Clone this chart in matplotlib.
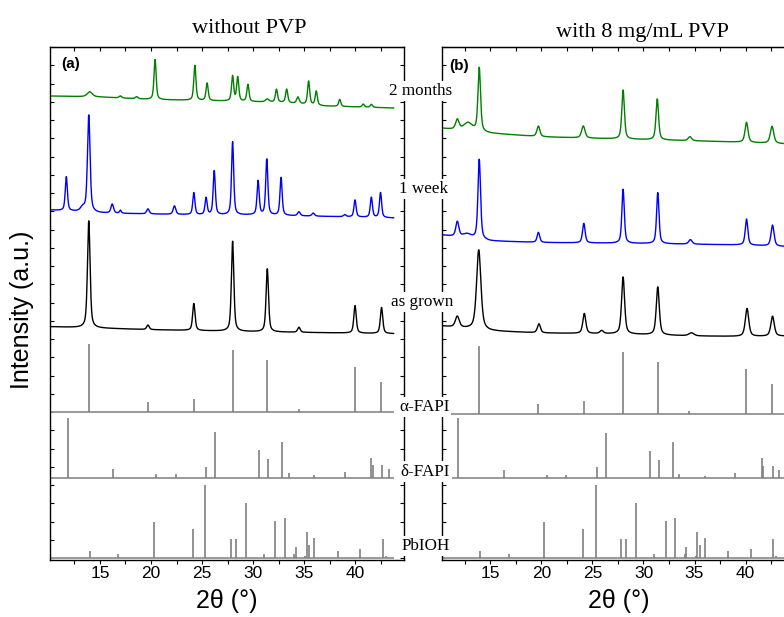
import numpy as np
import matplotlib
matplotlib.use('Agg')
import matplotlib.pyplot as plt
from matplotlib.ticker import MultipleLocator, FixedLocator

# ---- measured curves: peak position (2theta), height, fwhm ; background anchors ----
# panel (a) without PVP
a_2m_pos = [14.0, 17.0, 18.6, 20.4, 24.3, 25.5, 28.0, 28.5, 29.5, 31.4, 32.3, 33.3, 34.4, 35.45, 36.2, 38.5, 40.8, 41.6]
a_2m_h   = [5, 2, 2, 40, 35, 17.5, 25, 24, 17, 3, 13, 13.5, 6.5, 23.5, 14, 7, 3, 3]
a_2m_w   = [0.6, 0.3, 0.3, 0.25, 0.25, 0.25, 0.25, 0.25, 0.25, 0.4, 0.25, 0.25, 0.3, 0.25, 0.25, 0.25, 0.25, 0.25]
a_2m_bgx = [10.1, 15, 20, 27, 33, 37, 43.8]
a_2m_bgy = [0, -1, -3.5, -5, -6.5, -10, -12]

a_1w_pos = [11.7, 13.3, 13.9, 16.2, 17.0, 19.7, 22.3, 24.2, 25.4, 26.2, 28.0, 30.5, 31.35, 32.75, 34.5, 35.9, 39.0, 40.0, 41.6, 42.5]
a_1w_h   = [34, 4, 97, 9, 3, 5, 8.5, 22, 17, 44, 73, 34, 56, 38, 4, 3, 2, 17, 20, 25]
a_1w_w   = [0.25, 0.5, 0.3, 0.3, 0.2, 0.3, 0.3, 0.25, 0.25, 0.25, 0.25, 0.25, 0.25, 0.25, 0.3, 0.3, 0.3, 0.25, 0.25, 0.25]
a_1w_bgx = [10.1, 15, 20, 25, 30, 35, 40, 43.8]
a_1w_bgy = [0, -3, -4, -5, -5, -6, -7, -8]

a_ag_pos = [13.9, 19.7, 24.2, 28.0, 31.4, 34.5, 40.0, 42.6]
a_ag_h   = [107, 4.5, 27, 90, 63, 5, 27.5, 26]
a_ag_w   = [0.3, 0.3, 0.28, 0.28, 0.28, 0.3, 0.28, 0.28]
a_ag_bgx = [10.1, 20, 30, 43.8]
a_ag_bgy = [0, -3, -5, -7]

# panel (b) with 8 mg/mL PVP
b_2m_pos = [11.75, 12.8, 13.9, 19.7, 24.1, 28.0, 31.35, 34.55, 40.1, 42.6]
b_2m_h   = [10, 8, 64, 10.5, 12, 49, 41, 4, 20, 17]
b_2m_w   = [0.4, 1.0, 0.3, 0.35, 0.4, 0.3, 0.3, 0.4, 0.35, 0.4]
b_2m_bgx = [10.2, 15, 20, 25, 33, 40, 44.9]
b_2m_bgy = [0, -5, -8.5, -10, -12, -14, -16]

b_1w_pos = [11.75, 12.7, 13.9, 19.7, 24.15, 28.0, 31.4, 34.6, 40.1, 42.65]
b_1w_h   = [15, 4, 80, 10, 19.5, 54, 51, 4.5, 26, 21]
b_1w_w   = [0.35, 1.0, 0.3, 0.3, 0.3, 0.28, 0.28, 0.4, 0.3, 0.35]
b_1w_bgx = [10.2, 15, 20, 30, 40, 44.9]
b_1w_bgy = [0, -6, -7.5, -8.5, -10, -12]

b_ag_pos = [11.75, 13.85, 19.75, 24.2, 25.9, 28.0, 31.4, 34.7, 40.15, 42.65]
b_ag_h   = [11, 80, 9, 20, 3, 57, 48, 3, 28, 20]
b_ag_w   = [0.45, 0.5, 0.35, 0.35, 0.4, 0.35, 0.35, 0.6, 0.4, 0.4]
b_ag_bgx = [10.2, 15, 20, 28, 35, 40, 44.9]
b_ag_bgy = [0, -5, -7, -8, -10, -10.5, -10]

# reference stick patterns
alpha_pos = [13.9, 19.7, 24.2, 28.0, 31.4, 34.5, 40.0, 42.55]
alpha_h   = [68, 10, 12.7, 62, 52, 3, 45, 30]
delta_pos = [11.86, 16.3, 20.5, 22.45, 25.4, 26.3, 30.6, 31.5, 32.85, 33.5, 36.0, 39.0, 41.57, 41.76, 42.65, 43.3]
delta_h   = [60, 8.7, 3.7, 3.5, 11, 45.7, 27.7, 18.7, 36, 4.3, 2.7, 5.4, 20, 12.7, 12.7, 8.4]
pbioh_pos = [14.0, 16.8, 20.26, 24.1, 25.3, 27.8, 28.3, 29.3, 31.05, 32.2, 33.1, 34.05, 34.2, 35.1, 35.26, 35.5, 35.98, 38.3, 40.5, 42.7, 43.0]
pbioh_h   = [7, 3.4, 35.7, 29, 72.7, 18.7, 18.4, 54.7, 3.7, 36.7, 39.4, 3.7, 10.4, 1.7, 26, 12.7, 19.4, 6.7, 8.7, 18.7, 2]

labels = ['2 months', '1 week', 'as grown', 'α-FAPI', 'δ-FAPI', 'PbIOH']
titles = ['without PVP', 'with 8 mg/mL PVP']

W, H = 784, 617
SERIF = 'Liberation Serif'
SANS = 'Liberation Sans'


def pattern(x, pos, h, w, bgx, bgy):
    y = np.interp(x, bgx, bgy)
    for p, hh, ww in zip(pos, h, w):
        g = np.exp(-4 * np.log(2) * ((x - p) / ww) ** 2)
        l = 1 / (1 + ((x - p) / (ww / 2)) ** 2)
        y = y + hh * (0.55 * l + 0.45 * g)
    return y


fig = plt.figure(figsize=(W / 100, H / 100), dpi=100)

panels = [
    dict(left=50, xlim=(10.1, 44.8), xend=43.8, tag='(a)', tag_x=0.031, tag_y=0.967,
         title_x=249, title_y=33,
         curves=[(a_2m_pos, a_2m_h, a_2m_w, a_2m_bgx, a_2m_bgy, 464, '#008000'),
                 (a_1w_pos, a_1w_h, a_1w_w, a_1w_bgx, a_1w_bgy, 350, '#0000ff'),
                 (a_ag_pos, a_ag_h, a_ag_w, a_ag_bgx, a_ag_bgy, 233.3, 'black')],
         sticks=[(alpha_pos, alpha_h, 148.3), (delta_pos, delta_h, 82.3), (pbioh_pos, pbioh_h, 2.3)]),
    dict(left=441.5, xlim=(10.2, 44.9), xend=44.2, tag='(b)', tag_x=0.021, tag_y=0.962,
         title_x=642, title_y=37.5,
         curves=[(b_2m_pos, b_2m_h, b_2m_w, b_2m_bgx, b_2m_bgy, 431.7, '#008000'),
                 (b_1w_pos, b_1w_h, b_1w_w, b_1w_bgx, b_1w_bgy, 325, '#0000ff'),
                 (b_ag_pos, b_ag_h, b_ag_w, b_ag_bgx, b_ag_bgy, 234, 'black')],
         sticks=[(alpha_pos, alpha_h, 146), (delta_pos, delta_h, 81.7), (pbioh_pos, pbioh_h, 2.3)]),
]

for i, p in enumerate(panels):
    ax = fig.add_axes([p['left'] / W, (H - 560) / H, 354 / W, 513 / H])
    ax.set_xlim(*p['xlim'])
    ax.set_ylim(0, 513)

    x = np.arange(p['xlim'][0], p['xend'], 0.02)
    for pos, h, w, bgx, bgy, off, col in p['curves']:
        ax.plot(x, off + pattern(x, pos, h, w, bgx, bgy), color=col, lw=1.0)

    for pos, h, base in p['sticks']:
        ax.hlines(base, p['xlim'][0], p['xend'], color='#9a9a9a', lw=1.4)
        ax.vlines(pos, base, base + np.array(h), color='#7f7f7f', lw=1.2)

    ax.xaxis.set_major_locator(MultipleLocator(5))
    ax.xaxis.set_minor_locator(MultipleLocator(2.5))
    ax.yaxis.set_major_locator(FixedLocator(np.arange(513, 0, -18.25)))
    ax.tick_params(axis='x', which='both', direction='out', length=3, width=0.8,
                   labelsize=12.5, pad=1)
    ax.tick_params(axis='y', direction='in', length=3, width=0.8,
                   left=True, right=True, labelleft=False)
    for lab in ax.get_xticklabels():
        lab.set_family(SANS)
    top = ax.secondary_xaxis('top')
    top.xaxis.set_major_locator(MultipleLocator(2.5))
    top.tick_params(direction='in', length=3, width=0.8, labeltop=False)
    for s in ax.spines.values():
        s.set_linewidth(1.0)

    ax.set_xlabel('2θ (°)', fontsize=18, family=SANS, labelpad=6)
    ax.text(p['tag_x'], p['tag_y'], p['tag'], transform=ax.transAxes, fontsize=11,
            fontweight='bold', family=SANS, va='center', ha='left')
    fig.text(p['title_x'] / W, 1 - p['title_y'] / H, titles[i], fontsize=16,
             family=SERIF, ha='center', va='baseline')

fig.text(22 / W, 1 - 310 / H, 'Intensity (a.u.)', rotation=90, fontsize=18,
         family=SANS, ha='center', va='center')

label_xy = [(420.5, 95), (423.3, 193), (421.7, 306), (424.2, 411), (425.5, 475.5), (425.8, 550)]
for t, (lx, ly) in zip(labels, label_xy):
    fig.text(lx / W, 1 - ly / H, t, fontsize=12.3, family=SERIF, ha='center', va='baseline',
             bbox=dict(facecolor='white', edgecolor='none', pad=1.5), zorder=10)

fig.savefig('out.png', dpi=100)
